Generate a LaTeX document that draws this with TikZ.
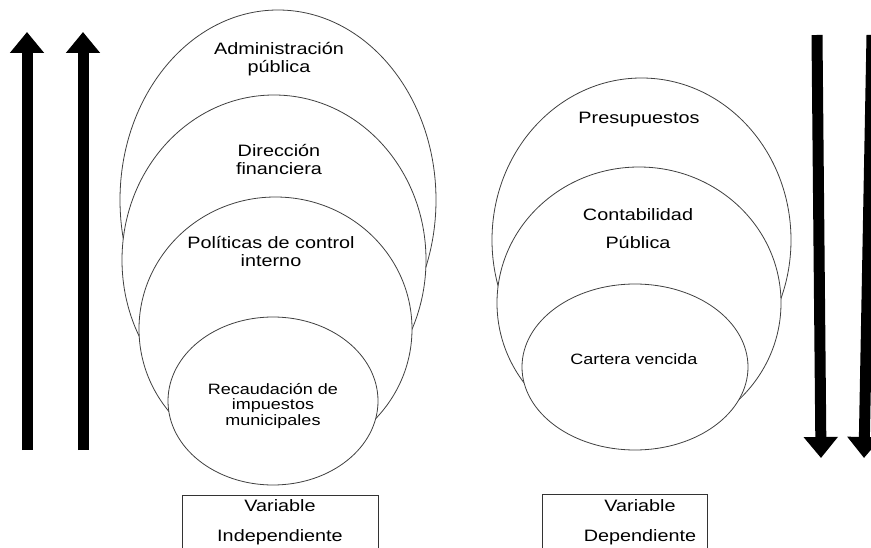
\documentclass[tikz,border=0pt]{standalone}
\usepackage{fontspec}
\newfontfamily\diafont{Liberation Sans}[FakeStretch=1.2]
\usetikzlibrary{arrows.meta}
\usetikzlibrary{shapes.geometric}
\usetikzlibrary{positioning}
\tikzset{ring/.style = {ellipse, draw=black!75, fill=white, line width=0.8pt, inner sep=0}}
\tikzset{varbox/.style = {draw=black!80, line width=0.8pt, inner sep=0}}
\tikzset{etiqueta/.style = {font=\diafont\fontsize{16.5}{18}\selectfont, align=center, inner sep=0}}
\tikzset{chica/.style = {etiqueta, font=\diafont\fontsize{15}{15.5}\selectfont}}
\tikzset{flecha/.style = {line width=11pt, -{Triangle[length=21pt, width=33pt]}}}

\begin{document}
\begin{tikzpicture}[x=1pt, y=-1pt]
          \clip (0,0) rectangle (871,548);
          \fill [white] (0,0) rectangle (871,548);

          % variable independiente
          \node [ring, minimum width=316pt, minimum height=380pt] (admin) at (278,200) {};
          \node [ring, minimum width=304pt, minimum height=330pt] (direc) at (274,260) {};
          \node [ring, minimum width=273pt, minimum height=264pt] (polit) at (275.5,329) {};
          \node [ring, minimum width=210pt, minimum height=168pt] (recau) at (273,401) {};
          \node [etiqueta] (tadmin) at (279,59) {Administración\\pública};
          \node [etiqueta] (tdirec) at (279,160) {Dirección\\financiera};
          \node [etiqueta] (tpolit) at (271,252) {Políticas de control\\interno};
          \node [chica] (trecau) at (273,406) {Recaudación de\\impuestos\\municipales};

          % variable dependiente
          \node [ring, minimum width=299pt, minimum height=324pt] (presu) at (641.5,240) {};
          \node [ring, minimum width=284pt, minimum height=272pt] (conta) at (639,303) {};
          \node [ring, minimum width=226pt, minimum height=166pt] (carte) at (635,367) {};
          \node [etiqueta] (tpresu) at (639,120) {Presupuestos};
          \node [etiqueta] (tconta) at (638,229) {Contabilidad\\[10pt]Pública};
          \node [chica] (tcarte) at (634,359) {Cartera vencida};

          \node [varbox, minimum width=196pt, minimum height=80pt, anchor=north west] (bindep) at (182,495) {};
          \node [varbox, minimum width=165pt, minimum height=80pt, anchor=north west] (bdep) at (542,494) {};
          \node [etiqueta] (tindep) at (280,522) {Variable\\[12pt]Independiente};
          \node [etiqueta] (tdep) at (640,522) {Variable\\[12pt]Dependiente};

          \coordinate (up1a) at (27,450);
          \coordinate (up1b) at (27,32);
          \coordinate (up2a) at (83,450);
          \coordinate (up2b) at (83,32);
          \coordinate (dn1a) at (817,35);
          \coordinate (dn1b) at (821,458);
          \coordinate (dn2a) at (872,35);
          \coordinate (dn2b) at (864,458);
          \draw [flecha] (up1a) -- (up1b);
          \draw [flecha] (up2a) -- (up2b);
          \draw [flecha] (dn1a) -- (dn1b);
          \draw [flecha] (dn2a) -- (dn2b);
\end{tikzpicture}
\end{document}
